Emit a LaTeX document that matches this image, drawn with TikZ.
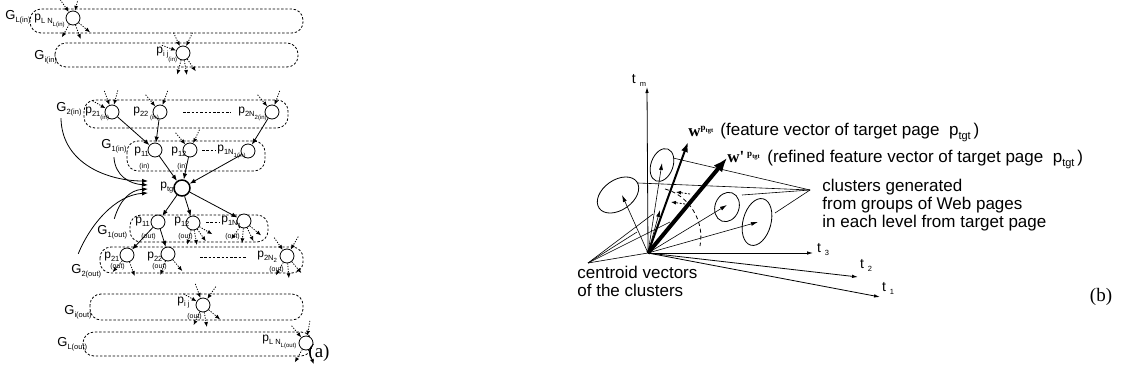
\documentclass[tikz,border=0pt]{standalone}
\usepackage{fontspec}
\setmainfont{Liberation Sans}
\newfontfamily\seriffont{Liberation Serif}
\usetikzlibrary{arrows.meta}

% subscripts of the page and group labels
\newcommand\sa[1]{\raisebox{-3pt}{\fontsize{7.5}{7.5}\selectfont #1}}
\newcommand\sbb[1]{\raisebox{-2.5pt}{\fontsize{6}{6}\selectfont #1}}
\newcommand\ptgt{p\raisebox{-4pt}{\fontsize{11}{11}\selectfont tgt}}
\newcommand\wsup{\raisebox{6pt}{\fontsize{9}{9}\selectfont p\raisebox{-2pt}{\fontsize{6.5}{6.5}\selectfont tgt}}}

\tikzset{
  page/.style={circle, draw, fill=white, minimum size=14pt, inner sep=0pt},
  tgtpage/.style={page, minimum size=16pt, line width=1.5pt},
  group/.style={draw, dash pattern=on 2.4pt off 1.8pt, rounded corners=11pt},
  link/.style={dash pattern=on 1.2pt off 1.4pt, -{Latex[length=5pt,width=4pt]}},
  hyper/.style={-{Latex[length=6pt,width=4.5pt]}},
  lbl/.style={inner sep=0pt, anchor=west, font=\fontsize{12}{12}\selectfont},
  glbl/.style={inner sep=0pt, anchor=west, font=\fontsize{13}{13}\selectfont},
  axis/.style={-{Latex[length=6pt,width=3.5pt]}},
  cvec/.style={-{Latex[length=7pt,width=4pt]}},
  txt/.style={inner sep=0pt, anchor=west, align=left, font=\fontsize{17}{18}\selectfont},
}

\begin{document}
\begin{tikzpicture}[x=1pt, y=-1pt, line width=0.8pt]
\useasboundingbox (0,0) rectangle (1123,375);

%%% (a) groups of pages in each level
\draw[group] (30,9) rectangle (303,33);
\draw[group] (55,43) rectangle (298,67);
\draw[group] (84,100) rectangle (288,128);
\draw[group] (127,141) rectangle (265,171);
\draw[group] (130,215) rectangle (268,242);
\draw[group] (100,247) rectangle (303,273);
\draw[group] (90,294) rectangle (303,320);
\draw[group] (83,332) rectangle (312,356);

\node[glbl] (GLin) at (5,17) {G\sa{L(in)}};
\node[glbl] (Giin) at (34,57) {G\sa{i(in)}};
\node[glbl] (G2in) at (56,109) {G\sa{2(in)}};
\node[glbl] (G1in) at (101,146) {G\sa{1(in)}};
\node[glbl] (G1out) at (97,232) {G\sa{1(out)}};
\node[glbl] (G2out) at (71,271) {G\sa{2(out)}};
\node[glbl] (Giout) at (64,312) {G\sa{i(out)}};
\node[glbl] (GLout) at (57,344) {G\sa{L(out)}};

% pages
\node[page] (pLin) at (73,18) {};
\node[page] (pijin) at (183,53) {};
\node[page] (p21in) at (112,112) {};
\node[page] (p22in) at (160,112) {};
\node[page] (p2Nin) at (272,112) {};
\node[page] (p11in) at (155,150) {};
\node[page] (p12in) at (190,150) {};
\node[page] (p1Nin) at (248,151) {};
\node[tgtpage] (ptgt) at (182,188) {};
\node[page] (p11out) at (158,222) {};
\node[page] (p12out) at (193,223) {};
\node[page] (p1Nout) at (244,221) {};
\node[page] (p21out) at (127,255) {};
\node[page] (p22out) at (168,254) {};
\node[page] (p2Nout) at (287,256) {};
\node[page] (pijout) at (203,305) {};
\node[page] (pLout) at (306,343) {};

% page labels
\node[lbl] at (34,21) {p\sa{L N\sbb{L}\sbb{(in)}}};
\node[lbl] at (156,55) {p\sa{i j\sbb{\raisebox{-3pt}{(in)}}}};
\node[lbl] at (85,114) {p\sa{21\sbb{(in)}}};
\node[lbl] at (133,114) {p\sa{22\sbb{ (in)}}};
\node[lbl] at (238,114) {p\sa{2N\sbb{2}\sbb{(in)}}};
\node[lbl] at (134,152) {p\sa{11}};
\node[lbl] at (139,167) {\fontsize{7}{7}\selectfont (in)};
\node[lbl] at (171,152) {p\sa{12}};
\node[lbl] at (177,167) {\fontsize{7}{7}\selectfont (in)};
\node[lbl] at (217,152) {p\sa{1N\sbb{1}\sbb{(in)}}};
\node[lbl] at (160,188) {p\sa{tgt}};
\node[lbl] at (135,222) {p\sa{11}};
\node[lbl] at (141,237) {\fontsize{7}{7}\selectfont (out)};
\node[lbl] at (174,222) {p\sa{12}};
\node[lbl] at (178,237) {\fontsize{7}{7}\selectfont (out)};
\node[lbl] at (221,222) {p\sa{1N\sbb{1}}};
\node[lbl] at (225,237) {\fontsize{7}{7}\selectfont (out)};
\node[lbl] at (104,257) {p\sa{21}};
\node[lbl] at (110,267) {\fontsize{7}{7}\selectfont (out)};
\node[lbl] at (147,257) {p\sa{22}};
\node[lbl] at (152,267) {\fontsize{7}{7}\selectfont (out)};
\node[lbl] at (257,257) {p\sa{2N\sbb{2}}};
\node[lbl] at (269,270) {\fontsize{7}{7}\selectfont (out)};
\node[lbl] at (177,303) {p\sa{i j}};
\node[lbl] at (187,317) {\fontsize{7}{7}\selectfont (out)};
\node[lbl] at (262,342) {p\sa{L N\sbb{L}\sbb{(out)}}};

% dashes for the omitted pages
\draw[dash pattern=on 2.5pt off 1.8pt] (183,112) -- (231,112);
\draw[dash pattern=on 2.5pt off 1.8pt] (202,150) -- (216,150);
\draw[dash pattern=on 2.5pt off 1.8pt] (206,222) -- (220,222);
\draw[dash pattern=on 2.5pt off 1.8pt] (200,257) -- (247,257);

% links between the levels
\draw[hyper] (p21in) -- (p11in);
\draw[hyper] (p22in) -- (p11in);
\draw[hyper] (p2Nin) -- (p1Nin);
\draw[hyper] (p11in) -- (ptgt);
\draw[hyper] (p12in) -- (ptgt);
\draw[hyper] (p1Nin) -- (ptgt);
\draw[hyper] (ptgt) -- (p11out);
\draw[hyper] (ptgt) -- (p12out);
\draw[hyper] (ptgt) -- (p1Nout);
\draw[hyper] (p11out) -- (p21out);
\draw[hyper] (p11out) -- (p22out);

% other in- and out-links
\foreach \n/\a in {pLin/125, pLin/75, pijin/160, pijin/115, pijin/65,
                   p21in/150, p21in/110, p21in/75, p22in/130, p22in/70,
                   p2Nin/130, p2Nin/70, p12in/130, p12in/65,
                   p2Nout/125, p2Nout/60, pijout/150, pijout/110, pijout/55,
                   pLout/130, pLout/80}
  \draw[link] ([shift={(\a:15pt)}]\n.\a) -- (\n.\a);
\foreach \n/\a in {pLin/240, pLin/290, pLin/320, pijin/255, pijin/280, pijin/305,
                   p12out/255, p12out/280, p12out/305, p12out/330,
                   p1Nout/235, p1Nout/265, p1Nout/295, p1Nout/320,
                   p21out/230, p21out/290, p22out/250, p22out/310,
                   p2Nout/240, p2Nout/275, p2Nout/310,
                   pijout/245, pijout/280, pijout/320, pLout/240, pLout/290}
  \draw[link] (\n.\a) -- ([shift={(\a:15pt)}]\n.\a);

% groups related to the target page
\draw[hyper] (G2in.south) ++(-8,2) .. controls (62,165) and (110,181) .. (148,181);
\draw[hyper] (G1in.south) ++(0,4) .. controls (115,176) and (130,184) .. (148,185);
\draw[hyper] (G1out.north) ++(2,-6) .. controls (120,200) and (130,190) .. (148,189);
\draw[hyper] (G2out.north) ++(-8,-10) .. controls (90,225) and (115,195) .. (148,193);

\node[inner sep=0pt, font=\seriffont\fontsize{19}{19}\selectfont] (cap a) at (319,353) {(a)};

%%% (b) feature vectors of the target page
\coordinate (O) at (648,253);
\coordinate (tm) at (647,87);
\coordinate (t3) at (813,253);
\coordinate (t2) at (858,277);
\coordinate (t1) at (880,297);
\draw[axis] (O) -- (tm);
\draw[axis] (O) -- (t3);
\draw[axis] (O) -- (t2);
\draw[axis] (O) -- (t1);
\node[inner sep=0pt, font=\fontsize{14}{14}\selectfont] at (639,80) {t \sa{m}};
\node[inner sep=0pt, font=\fontsize{14}{14}\selectfont] at (823,250) {t \sa{3}};
\node[inner sep=0pt, font=\fontsize{14}{14}\selectfont] at (866,265) {t \sa{2}};
\node[inner sep=0pt, font=\fontsize{14}{14}\selectfont] at (888,288) {t \sa{1}};

% clusters and their centroid vectors
\draw[rotate around={-20:(662,165)}] (662,165) ellipse (11 and 17);
\draw[rotate around={35:(618,195)}] (618,195) ellipse (23 and 15);
\draw[rotate around={-20:(727,207)}] (727,207) ellipse (12 and 15);
\draw[rotate around={-15:(757,222)}] (757,222) ellipse (14 and 24);
\coordinate (c1) at (662,163);
\coordinate (c2) at (622,195);
\coordinate (c3) at (727,205);
\coordinate (c4) at (758,222);
\coordinate (c5) at (660,210);
\foreach \c in {c1,c2,c3,c4,c5}
  \draw[line width=0.6pt, cvec] (O) -- (\c);

% feature vectors
\coordinate (w) at (688,142);
\coordinate (wr) at (727,158);
\draw[line width=2pt, -{Latex[length=10pt,width=7pt]}] (O) -- (w);
\draw[line width=4pt, -{Latex[length=14pt,width=11pt]}] (O) -- (wr);
\draw[dash pattern=on 4pt off 3pt] (665,189) .. controls (688,195) and (705,220) .. (700,246);
\draw[dash pattern=on 2pt off 1.5pt, -{Latex[length=5pt,width=4pt]}] (690,194) -- (676,192);
\draw[dash pattern=on 2pt off 1.5pt, -{Latex[length=5pt,width=4pt]}] (685,204) -- (671,202);

% notes
\coordinate (Q) at (810,190);
\draw[line width=0.6pt] (673,158) -- (Q);
\draw[line width=0.6pt] (638,183) -- (Q);
\draw[line width=0.6pt] (742,195) -- (Q);
\draw[line width=0.6pt] (775,213) -- (Q);
\coordinate (C) at (588,263);
\draw[line width=0.6pt] (C) -- (O);
\draw[line width=0.6pt] (C) -- (637,232);
\draw[line width=0.6pt] (C) -- (653,214);
\draw[line width=0.6pt] (C) -- (670,222);

\node[inner sep=0pt, anchor=west] (wl) at (688,131) {\fontsize{17}{17}\selectfont\seriffont\bfseries w\wsup};
\node[txt] at (720,132) {(feature vector of target page \ \ptgt\,)};
\node[inner sep=0pt, anchor=west] (wrl) at (727,157) {\fontsize{17}{17}\selectfont\seriffont\bfseries w'\,\wsup};
\node[txt] at (767,159) {(refined feature vector of target page \ \ptgt\,)};
\node[txt] at (822,205) {clusters generated\\from groups of Web pages\\in each level from target page};
\node[txt] at (577,281) {centroid vectors\\of the clusters};

\node[inner sep=0pt, font=\seriffont\fontsize{19}{19}\selectfont] (cap b) at (1101,297) {(b)};
\end{tikzpicture}
\end{document}
